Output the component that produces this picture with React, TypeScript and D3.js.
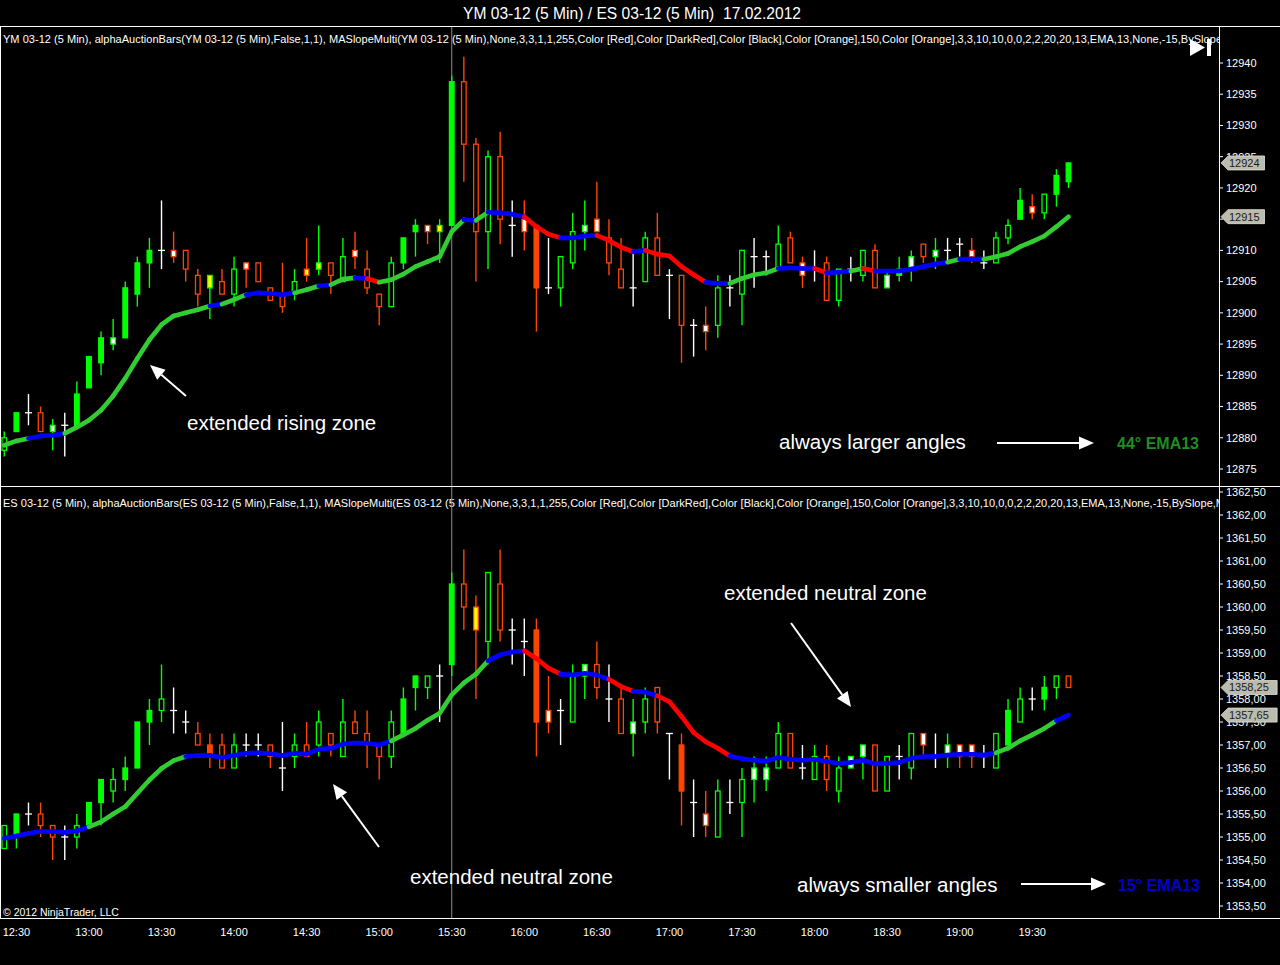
import React from "react";
import * as d3 from "d3";

// ---------- DATA ----------
const firstBarTime = "12:25";
const barMinutes = 5;
const timeLabels = ["12:30","13:00","13:30","14:00","14:30","15:00","15:30","16:00","16:30","17:00","17:30","18:00","18:30","19:00","19:30"];
const cursorTime = "15:30";

// YM 03-12 (top panel)
const ymOpen = [12878,12881,12884,12884,12881,12882,12882,12888,12892,12895,
12896,12903,12908,12910,12910,12910,12906,12904,12905,12903,
12908,12908,12904,12903,12903,12907,12907,12908,12905,12910,
12907,12903,12901,12908,12913,12914,12913,12914,12937,12927,
12913,12925,12914,12915,12914,12904,12904,12908,12913,12915,
12912,12907,12904,12905,12912,12906,12906,12898,12898,12898,
12904,12903,12909,12909,12907,12912,12908,12907,12908,12902,
12907,12906,12910,12904,12906,12907,12911,12909,12910,12911,
12910,12908,12908,12912,12915,12917,12916,12919,12921];
const ymHigh = [12881,12884,12887,12885,12883,12884,12889,12893,12897,12899,
12905,12909,12912,12918,12913,12910,12907,12906,12907,12909,
12908,12908,12904,12908,12907,12912,12914,12908,12912,12913,
12910,12903,12909,12912,12915,12914,12915,12938,12941,12928,
12926,12929,12918,12918,12914,12912,12909,12916,12918,12921,
12915,12912,12910,12913,12916,12907,12906,12899,12901,12906,
12906,12910,12912,12910,12914,12913,12909,12910,12909,12907,
12909,12910,12911,12907,12909,12910,12911,12912,12912,12912,
12912,12910,12913,12915,12920,12919,12919,12923,12924];
const ymLow = [12877,12881,12882,12881,12878,12877,12882,12888,12890,12894,
12896,12901,12904,12907,12908,12905,12901,12899,12903,12901,
12904,12905,12902,12900,12902,12905,12906,12903,12905,12907,
12903,12898,12901,12907,12909,12911,12908,12914,12921,12905,
12907,12911,12909,12910,12897,12903,12901,12907,12910,12913,
12906,12904,12901,12905,12906,12899,12892,12893,12894,12896,
12901,12898,12904,12906,12907,12908,12904,12905,12902,12901,
12905,12905,12904,12904,12905,12905,12908,12907,12908,12909,
12908,12907,12908,12911,12915,12915,12915,12917,12920];
const ymClose = [12880,12884,12884,12881,12882,12882,12887,12893,12896,12896,
12904,12908,12910,12910,12909,12907,12903,12906,12903,12907,
12907,12905,12902,12901,12905,12906,12908,12906,12909,12909,
12904,12901,12908,12912,12914,12913,12914,12937,12927,12913,
12925,12915,12914,12913,12904,12904,12909,12913,12914,12913,
12908,12904,12904,12912,12906,12906,12898,12898,12897,12904,
12904,12910,12909,12909,12911,12908,12906,12907,12902,12907,
12907,12910,12904,12906,12907,12909,12909,12910,12910,12911,
12909,12908,12912,12914,12918,12916,12919,12922,12924];
const ymStyle = ["g","G","W","r","gw","W","G","G","G","gw",
"G","G","G","W","rw","r","r","gy","r","g",
"rw","r","r","r","g","ry","gy","r","g","rw",
"r","r","g","G","G","rw","gy","G","r","r",
"g","r","W","rw","R","W","g","g","gw","rw",
"r","r","W","g","r","W","r","W","rw","g",
"W","g","W","W","g","r","rw","W","r","g",
"W","g","r","gw","G","gw","r","gw","W","W",
"rw","W","g","g","G","rw","g","G","G"];
const ymEma = [12878.8,12879.5,12879.9,12880.3,12880.4,12880.7,12881.7,12882.8,12884.4,12886.7,
12889.5,12892.7,12895.7,12898.1,12899.5,12900.0,12900.5,12901.1,12901.4,12902.1,
12902.9,12903.2,12903.1,12902.9,12903.2,12903.7,12904.3,12904.5,12905.4,12905.6,
12905.5,12904.9,12905.3,12906.2,12907.4,12908.2,12909.0,12913.0,12914.9,12914.8,
12916.1,12916.0,12915.8,12915.4,12913.8,12912.6,12912.0,12912.0,12912.3,12912.4,
12911.6,12910.5,12909.8,12910.0,12909.4,12909.1,12907.4,12906.1,12904.9,12904.7,
12904.7,12905.5,12906.1,12906.4,12907.1,12907.2,12907.1,12907.1,12906.4,12906.5,
12906.7,12907.1,12906.7,12906.7,12906.7,12907.0,12907.4,12907.8,12908.1,12908.6,
12908.6,12908.6,12909.0,12909.5,12910.6,12911.4,12912.3,12913.8,12915.4];
const ymSlopeRuns: [string, number][] = [["G",2],["B",3],["G",12],["B",1],["G",2],["B",4],["G",2],["B",1],["G",2],["B",1],["R",1],["G",7],["B",1],["G",1],["B",3],["R",3],["B",3],["R",3],["B",1],["R",5],["B",2],["G",4],["B",3],["R",1],["B",2],["G",1],["R",1],["B",6],["G",1],["B",2],["G",7]];
const ymTicks = [12875,12880,12885,12890,12895,12900,12905,12910,12915,12920,12925,12930,12935,12940];

// ES 03-12 (bottom panel)
const esOpen = [1354.75,1355.0,1355.5,1355.5,1355.25,1355.0,1355.0,1355.25,1355.75,1356.0,
1356.25,1356.5,1357.5,1357.75,1357.75,1357.5,1357.25,1357.0,1357.0,1356.5,
1357.0,1357.0,1357.0,1356.5,1356.75,1357.0,1357.0,1357.25,1356.75,1357.5,
1357.25,1357.0,1356.75,1357.25,1358.25,1358.25,1358.5,1358.75,1360.5,1360.0,
1359.25,1360.5,1359.5,1359.25,1359.5,1357.75,1357.75,1357.5,1358.5,1358.75,
1358.0,1358.0,1357.25,1357.5,1358.25,1357.25,1357.0,1355.75,1355.5,1355.0,
1355.75,1355.75,1356.25,1356.25,1356.5,1357.25,1356.5,1356.25,1356.75,1356.0,
1356.5,1356.75,1357.0,1356.0,1356.75,1356.5,1357.25,1356.75,1356.75,1357.0,
1357.0,1356.75,1356.5,1357.0,1357.5,1358.0,1358.0,1358.25,1358.5];
const esHigh = [1355.25,1355.5,1355.75,1355.75,1355.25,1355.25,1355.5,1355.75,1356.25,1356.5,
1356.75,1357.5,1358.0,1358.75,1358.25,1357.75,1357.5,1357.25,1357.25,1357.25,
1357.25,1357.25,1357.0,1357.5,1357.25,1357.5,1357.75,1357.25,1358.0,1357.75,
1357.75,1357.0,1357.75,1358.25,1358.5,1358.5,1358.75,1360.75,1361.25,1360.25,
1360.75,1361.25,1359.75,1359.75,1359.75,1358.5,1358.0,1358.75,1358.75,1359.25,
1358.75,1358.25,1358.0,1358.25,1358.25,1357.25,1357.25,1356.25,1356.0,1356.25,
1356.25,1356.5,1356.75,1356.75,1357.5,1357.25,1357.0,1357.0,1357.0,1356.75,
1356.75,1357.0,1357.0,1356.75,1357.0,1357.25,1357.25,1357.25,1357.25,1357.0,
1357.0,1357.0,1357.25,1358.0,1358.25,1358.25,1358.5,1358.5,1358.5];
const esLow = [1354.75,1354.75,1355.25,1355.0,1354.5,1354.5,1354.75,1355.25,1355.25,1355.75,
1356.0,1356.5,1357.0,1357.5,1357.25,1357.25,1357.0,1356.5,1356.5,1356.5,
1356.75,1356.75,1356.5,1356.0,1356.5,1356.75,1356.75,1356.75,1356.75,1357.25,
1356.5,1356.25,1356.5,1357.25,1357.75,1358.0,1357.5,1358.5,1359.5,1358.0,
1358.75,1359.25,1358.75,1358.5,1356.75,1357.25,1357.0,1357.5,1358.0,1358.0,
1357.5,1357.25,1356.75,1357.25,1357.25,1356.25,1355.25,1355.0,1355.0,1355.0,
1355.5,1355.0,1355.75,1356.0,1356.5,1356.5,1356.25,1356.25,1356.0,1355.75,
1356.5,1356.25,1356.0,1356.0,1356.25,1356.25,1356.75,1356.5,1356.5,1356.5,
1356.5,1356.5,1356.5,1357.0,1357.5,1357.75,1357.75,1358.0,1358.25];
const esClose = [1355.25,1355.5,1355.5,1355.25,1355.0,1355.0,1355.25,1355.75,1356.25,1356.25,
1356.5,1357.5,1357.75,1358.0,1357.75,1357.5,1357.0,1356.75,1356.5,1357.0,
1357.0,1357.0,1356.75,1356.5,1357.0,1356.75,1357.5,1357.0,1357.5,1357.25,
1357.0,1356.75,1357.5,1358.0,1358.5,1358.5,1358.5,1360.5,1360.0,1359.5,
1360.75,1359.5,1359.5,1359.25,1357.5,1357.5,1357.75,1358.5,1358.75,1358.25,
1358.0,1357.25,1357.5,1358.0,1357.5,1357.25,1356.0,1355.75,1355.25,1356.0,
1355.75,1356.25,1356.5,1356.5,1357.25,1356.5,1356.5,1356.75,1356.25,1356.5,
1356.75,1357.0,1356.0,1356.75,1356.75,1357.25,1357.0,1356.75,1357.0,1356.75,
1356.75,1356.75,1357.25,1357.75,1358.0,1358.0,1358.25,1358.5,1358.25];
const esStyle = ["g","G","W","r","r","W","g","G","G","g",
"G","G","G","g","W","W","r","R","r","g",
"W","W","r","W","g","r","g","r","g","r",
"r","r","g","G","G","g","W","G","r","ry",
"g","r","W","W","R","rw","W","g","gw","r",
"W","r","gw","g","r","W","R","W","rw","g",
"W","g","gw","gw","g","r","W","g","r","g",
"gw","gw","r","g","W","g","rw","W","gw","rw",
"rw","W","g","G","g","W","G","g","r"];
const esEma = [1354.97,1355.02,1355.08,1355.12,1355.12,1355.10,1355.13,1355.22,1355.33,1355.50,
1355.66,1355.95,1356.24,1356.49,1356.66,1356.75,1356.77,1356.77,1356.73,1356.77,
1356.82,1356.83,1356.81,1356.77,1356.82,1356.80,1356.91,1356.93,1357.02,1357.04,
1357.04,1357.00,1357.09,1357.22,1357.36,1357.54,1357.69,1358.09,1358.35,1358.54,
1358.83,1358.96,1359.02,1359.05,1358.88,1358.67,1358.54,1358.52,1358.56,1358.52,
1358.43,1358.27,1358.17,1358.15,1358.07,1357.94,1357.62,1357.27,1357.07,1356.93,
1356.76,1356.70,1356.67,1356.65,1356.73,1356.69,1356.67,1356.69,1356.64,1356.60,
1356.62,1356.67,1356.59,1356.60,1356.62,1356.71,1356.75,1356.75,1356.78,1356.80,
1356.80,1356.78,1356.83,1356.93,1357.09,1357.22,1357.36,1357.53,1357.65];
const esSlopeRuns: [string, number][] = [["B",7],["G",8],["B",17],["G",8],["B",3],["R",3],["B",4],["R",2],["B",2],["R",6],["B",22],["G",5],["B",1]];
const esTicks = [1353.5,1354,1354.5,1355,1355.5,1356,1356.5,1357,1357.5,1358,1358.5,1359,1359.5,1360,1360.5,1361,1361.5,1362,1362.5];

const ymHeader = "YM 03-12 (5 Min), alphaAuctionBars(YM 03-12 (5 Min),False,1,1), MASlopeMulti(YM 03-12 (5 Min),None,3,3,1,1,255,Color [Red],Color [DarkRed],Color [Black],Color [Orange],150,Color [Orange],3,3,10,10,0,0,2,2,20,20,13,EMA,13,None,-15,BySlope";
const esHeader = "ES 03-12 (5 Min), alphaAuctionBars(ES 03-12 (5 Min),False,1,1), MASlopeMulti(ES 03-12 (5 Min),None,3,3,1,1,255,Color [Red],Color [DarkRed],Color [Black],Color [Orange],150,Color [Orange],3,3,10,10,0,0,2,2,20,20,13,EMA,13,None,-15,BySlope,M";
const title = "YM 03-12 (5 Min) / ES 03-12 (5 Min)  17.02.2012";

// ---------- STYLE ----------
const FONT = "'Liberation Sans', Arial, Helvetica, sans-serif";
const CANDLE_GREEN = "#00ff00";
const CANDLE_RED = "#ff4500";
const SLOPE_COLORS: Record<string, string> = { G: "#32cd32", B: "#0000ff", R: "#ff0000" };

const toMin = (t: string) => { const [h, m] = t.split(":").map(Number); return h * 60 + m; };
const barOfTime = (t: string) => (toMin(t) - toMin(firstBarTime)) / barMinutes;
const expandRuns = (runs: [string, number][]) => runs.flatMap(([c, n]) => Array(n).fill(c));

const PLOT_RIGHT = 1219;
const nBars = ymClose.length;
const x = d3.scaleLinear().domain([0, nBars - 1]).range([4.3, 1068.5]);

const yTop = d3.scaleLinear().domain([12875, 12940]).range([469, 63]);
const yBot = d3.scaleLinear().domain([1353.5, 1362.5]).range([906, 492]);

function Candles({ o, h, l, c, st, y }: any) {
  const bw = 4.6;
  return (
    <g>
      {c.map((_: number, i: number) => {
        const s: string = st[i];
        const cx = x(i);
        const col = s === "W" ? "#ffffff" : s[0].toLowerCase() === "g" ? CANDLE_GREEN : CANDLE_RED;
        const wick = <line x1={cx} x2={cx} y1={y(h[i])} y2={y(l[i])} stroke={col} strokeWidth={1.4} />;
        if (s === "W") {
          return (
            <g key={i}>
              {wick}
              <line x1={cx - 3.5} x2={cx + 3.5} y1={y(c[i])} y2={y(c[i])} stroke="#fff" strokeWidth={1.3} />
            </g>
          );
        }
        const top = y(Math.max(o[i], c[i]));
        const bot = y(Math.min(o[i], c[i]));
        let fill = "#000";
        if (s === "G" || s === "R") fill = col;
        else if (s.endsWith("w")) fill = "#ffffff";
        else if (s.endsWith("y")) fill = "#ffff00";
        return (
          <g key={i}>
            {wick}
            <rect x={cx - bw / 2} y={top} width={bw} height={Math.max(1, bot - top)} fill={fill} stroke={col} strokeWidth={1.3} />
          </g>
        );
      })}
    </g>
  );
}

function SlopeLine({ ema, runs, y }: any) {
  const cols = expandRuns(runs);
  const seg = d3.line<[number, number]>().x((d) => d[0]).y((d) => d[1]);
  return (
    <g>
      {ema.slice(0, -1).map((v: number, i: number) => (
        <path
          key={i}
          d={seg([[x(i), y(v)], [x(i + 1), y(ema[i + 1])]]) || ""}
          stroke={SLOPE_COLORS[cols[i]] || "#0000ff"}
          strokeWidth={4.6}
          strokeLinecap="round"
          fill="none"
        />
      ))}
    </g>
  );
}

function RightAxis({ ticks, y, fmt, top, bottom }: any) {
  return (
    <g fontFamily={FONT} fontSize={11} fill="#fff">
      <line x1={PLOT_RIGHT + 0.5} x2={PLOT_RIGHT + 0.5} y1={top} y2={bottom} stroke="#fff" strokeWidth={1} />
      {ticks.map((t: number) => (
        <g key={t}>
          <line x1={PLOT_RIGHT} x2={PLOT_RIGHT + 4} y1={y(t)} y2={y(t)} stroke="#fff" strokeWidth={1} />
          <text x={PLOT_RIGHT + 7} y={y(t)} dy="0.35em">{fmt(t)}</text>
        </g>
      ))}
    </g>
  );
}

function PriceTag({ value, y, fmt }: any) {
  const yy = y(value);
  const x0 = PLOT_RIGHT + 2;
  const label = fmt(value);
  const right = x0 + 12 + label.length * 6.3;
  const pts = [[x0, yy], [x0 + 7, yy - 7], [right, yy - 7], [right, yy + 7], [x0 + 7, yy + 7]].map((p) => p.join(",")).join(" ");
  return (
    <g>
      <polygon points={pts} fill="#bcbcae" stroke="#e0e0d8" strokeWidth={0.8} />
      <text x={x0 + 8} y={yy} dy="0.36em" fontFamily={FONT} fontSize={11} fill="#1a1a1a">{label}</text>
    </g>
  );
}

function Arrow({ x1, y1, x2, y2 }: any) {
  const ang = Math.atan2(y2 - y1, x2 - x1);
  const len = 15, hw = 6.5;
  const bx = x2 - len * Math.cos(ang), by = y2 - len * Math.sin(ang);
  const px = -Math.sin(ang) * hw, py = Math.cos(ang) * hw;
  return (
    <g>
      <line x1={x1} y1={y1} x2={bx} y2={by} stroke="#fff" strokeWidth={2} />
      <polygon points={`${x2},${y2} ${bx + px},${by + py} ${bx - px},${by - py}`} fill="#fff" />
    </g>
  );
}

export default function App() {
  const fmtTop = (v: number) => d3.format("d")(v);
  const fmtBot = (v: number) => d3.format(".2f")(v).replace(".", ",");
  const cursorX = x(barOfTime(cursorTime));
  return (
    <div style={{ position: "absolute", left: 0, top: 0, width: 1280, height: 965, background: "#000" }}>
      <svg width={1280} height={965} style={{ display: "block" }}>
        <defs>
          <clipPath id="clipTop"><rect x={1} y={27} width={PLOT_RIGHT - 1} height={459} /></clipPath>
          <clipPath id="clipBot"><rect x={1} y={487} width={PLOT_RIGHT - 1} height={431} /></clipPath>
        </defs>
        <rect x={0} y={0} width={1280} height={965} fill="#000" />
        <text x={632} y={18.5} textAnchor="middle" fontFamily={FONT} fontSize={15.6} fill="#fff" style={{ whiteSpace: "pre" }}>{title}</text>

        {/* frame */}
        <line x1={0} x2={1280} y1={26.5} y2={26.5} stroke="#fff" />
        <line x1={0} x2={1280} y1={486.5} y2={486.5} stroke="#fff" />
        <line x1={0} x2={1280} y1={918.5} y2={918.5} stroke="#fff" />
        <line x1={0.5} x2={0.5} y1={27} y2={918} stroke="#fff" />

        {/* top panel */}
        <g clipPath="url(#clipTop)">
          <text x={3} y={43} fontFamily={FONT} fontSize={11} fill="#fff" textLength={1219} lengthAdjust="spacing">{ymHeader}</text>
          <line x1={cursorX} x2={cursorX} y1={27} y2={486} stroke="#8c8c8c" strokeWidth={1} />
          <Candles o={ymOpen} h={ymHigh} l={ymLow} c={ymClose} st={ymStyle} y={yTop} />
          <SlopeLine ema={ymEma} runs={ymSlopeRuns} y={yTop} />
          <polygon points="1190,39 1190,56 1205,47.5" fill="#fff" />
          <rect x={1207} y={39} width={4} height={17} fill="#fff" />
          <g fontFamily={FONT} fill="#fff">
            <text x={187} y={430} fontSize={20.5}>extended rising zone</text>
            <text x={779} y={449} fontSize={20.5}>always larger angles</text>
            <text x={1117} y={449} fontSize={16} fontWeight="bold" fill="#228b22">44° EMA13</text>
          </g>
          <Arrow x1={186} y1={396} x2={150} y2={365} />
          <Arrow x1={997} y1={443} x2={1094} y2={443} />
        </g>
        <RightAxis ticks={ymTicks} y={yTop} fmt={fmtTop} top={27} bottom={486} />
        <PriceTag value={ymClose[nBars - 1]} y={yTop} fmt={fmtTop} />
        <PriceTag value={ymEma[nBars - 1]} y={yTop} fmt={(v: number) => fmtTop(Math.floor(v))} />

        {/* bottom panel */}
        <g clipPath="url(#clipBot)">
          <text x={3} y={507} fontFamily={FONT} fontSize={11} fill="#fff" textLength={1222} lengthAdjust="spacing">{esHeader}</text>
          <line x1={cursorX} x2={cursorX} y1={487} y2={918} stroke="#8c8c8c" strokeWidth={1} />
          <Candles o={esOpen} h={esHigh} l={esLow} c={esClose} st={esStyle} y={yBot} />
          <SlopeLine ema={esEma} runs={esSlopeRuns} y={yBot} />
          <g fontFamily={FONT} fill="#fff">
            <text x={724} y={600} fontSize={20.5}>extended neutral zone</text>
            <text x={410} y={884} fontSize={20.5}>extended neutral zone</text>
            <text x={797} y={892} fontSize={20.5}>always smaller angles</text>
            <text x={1118} y={891} fontSize={16} fontWeight="bold" fill="#0000cd">15° EMA13</text>
            <text x={3} y={916} fontSize={10.5}>© 2012 NinjaTrader, LLC</text>
          </g>
          <Arrow x1={791} y1={623} x2={851} y2={707} />
          <Arrow x1={379} y1={847} x2={333} y2={784} />
          <Arrow x1={1021} y1={884} x2={1106} y2={884} />
        </g>
        <RightAxis ticks={esTicks} y={yBot} fmt={fmtBot} top={487} bottom={918} />
        <PriceTag value={esClose[nBars - 1]} y={yBot} fmt={fmtBot} />
        <PriceTag value={esEma[nBars - 1]} y={yBot} fmt={fmtBot} />

        {/* x axis */}
        <g fontFamily={FONT} fontSize={11} fill="#fff" textAnchor="middle">
          {timeLabels.map((t) => (
            <text key={t} x={Math.max(15, x(barOfTime(t)))} y={936}>{t}</text>
          ))}
        </g>
      </svg>
    </div>
  );
}
